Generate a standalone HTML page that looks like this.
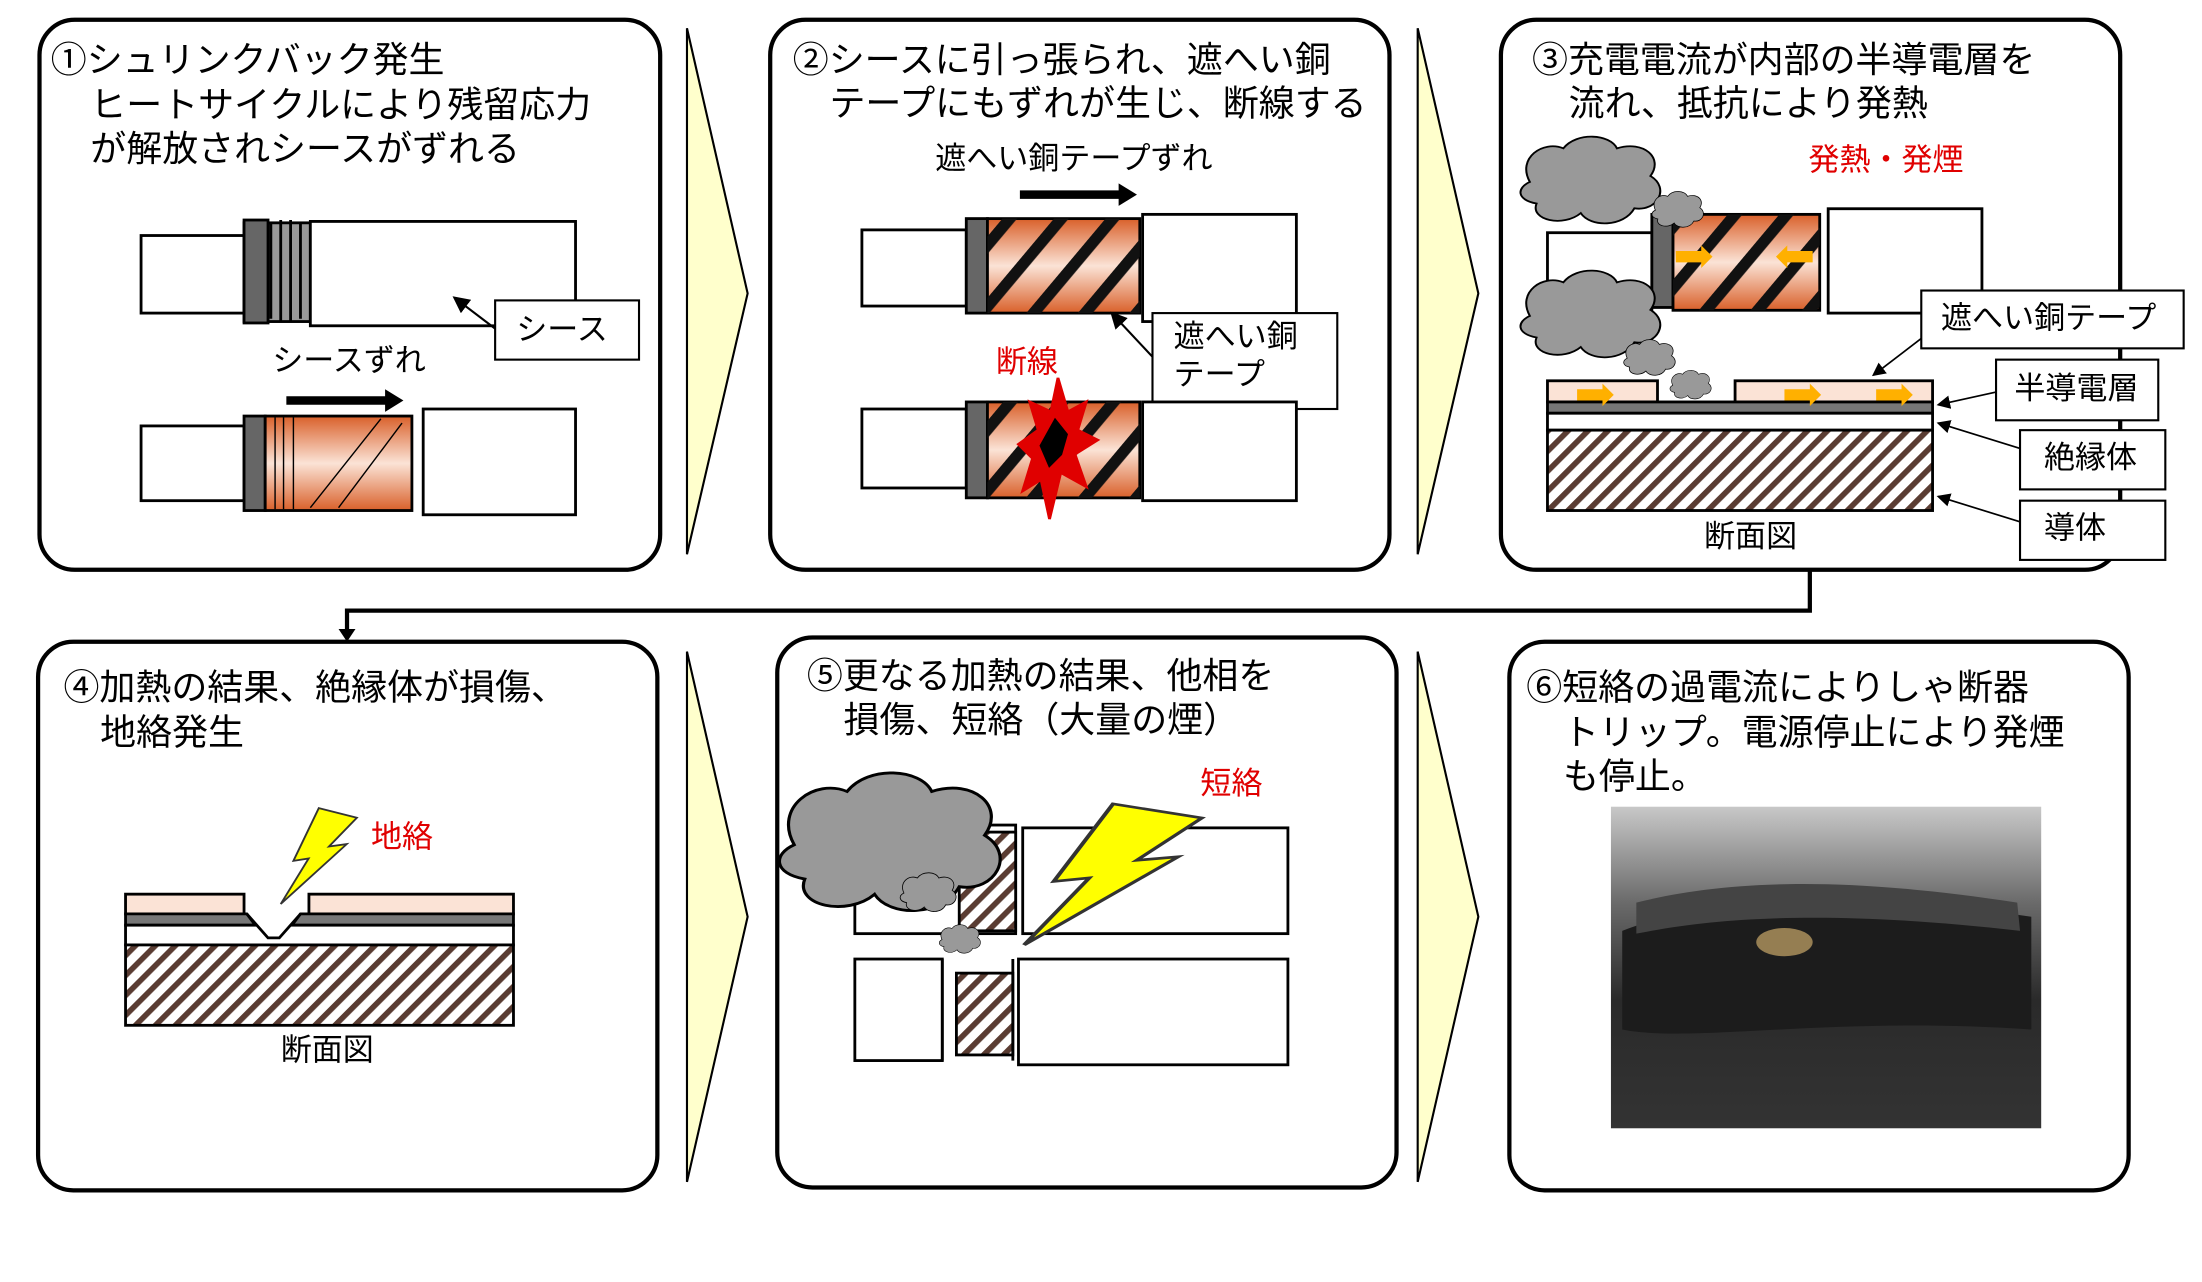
<!DOCTYPE html>
<html><head><meta charset="utf-8"><style>
html,body{margin:0;padding:0;background:#fff;}
svg{display:block}
text{font-family:"Liberation Sans","Noto Sans CJK JP",sans-serif;}
</style></head><body>
<svg width="2202" height="1282" viewBox="0 0 1561 909" preserveAspectRatio="none" xmlns="http://www.w3.org/2000/svg">
<defs>
<linearGradient id="cu" x1="0" y1="0" x2="0" y2="1">
<stop offset="0" stop-color="#d9602a"/><stop offset="0.5" stop-color="#fbe3d6"/><stop offset="1" stop-color="#d9602a"/>
</linearGradient>
<pattern id="hatch" width="10" height="10" patternUnits="userSpaceOnUse" patternTransform="rotate(45)">
<rect width="10" height="10" fill="#fff"/><rect width="4" height="10" fill="#5a3c32"/>
</pattern>
<pattern id="stripe" width="28" height="28" patternUnits="userSpaceOnUse" patternTransform="rotate(40)">
<rect width="28" height="28" fill="none"/><rect width="8" height="28" fill="#111"/>
</pattern>
<marker id="ah" markerWidth="8" markerHeight="8" refX="7" refY="4" orient="auto"><path d="M0,0 L8,4 L0,8z" fill="#000"/></marker>
<linearGradient id="ph" x1="0" y1="0" x2="0" y2="1">
<stop offset="0" stop-color="#c8c8c8"/><stop offset="0.3" stop-color="#6a6a6a"/><stop offset="0.6" stop-color="#2a2a2a"/><stop offset="1" stop-color="#333"/>
</linearGradient>
<g id="cloud"><path d="M10,40 C0,20 20,5 35,12 C45,-2 70,0 75,12 C95,5 110,20 100,35 C115,45 105,65 88,62 C80,78 55,78 48,66 C35,78 10,72 15,58 C0,55 0,45 10,40z" fill="#999" stroke="#000" stroke-width="1.5"/></g>
<g id="bolt"><path d="M40,0 L70,8 L48,32 L62,30 L10,80 L32,42 L20,44z" fill="#ffff00" stroke="#333" stroke-width="1.5"/></g>
</defs>
<g fill="none" stroke="#000" stroke-width="3">
<rect x="28" y="14" width="440" height="390" rx="25"/>
<rect x="546" y="14" width="439" height="390" rx="25"/>
<rect x="1064" y="14" width="439" height="390" rx="25"/>
<rect x="27" y="455" width="439" height="389" rx="25"/>
<rect x="551" y="452" width="439" height="390" rx="25"/>
<rect x="1070" y="455" width="439" height="389" rx="25"/>
</g>
<g fill="#ffffcc" stroke="#000" stroke-width="1.5">
<path d="M487,20 L530,208 L487,393z"/><path d="M1005,20 L1048,208 L1005,393z"/>
<path d="M487,462 L530,650 L487,838z"/><path d="M1005,462 L1048,650 L1005,838z"/>
</g>
<path d="M1283,404 V433 H246 V448" fill="none" stroke="#000" stroke-width="3"/>
<path d="M240,446 L246,455 L252,446z" fill="#000"/>
<g font-size="25.5" fill="#000">
<text x="36" y="51">①シュリンクバック発生</text>
<text x="64" y="83">ヒートサイクルにより残留応力</text>
<text x="64" y="114">が解放されシースがずれる</text>
<text x="562" y="51">②シースに引っ張られ、遮へい銅</text>
<text x="588" y="82">テープにもずれが生じ、断線する</text>
<text x="1086" y="51">③充電電流が内部の半導電層を</text>
<text x="1112" y="82">流れ、抵抗により発熱</text>
<text x="45" y="496">④加熱の結果、絶縁体が損傷、</text>
<text x="71" y="528">地絡発生</text>
<text x="572" y="488">⑤更なる加熱の結果、他相を</text>
<text x="598" y="519">損傷、短絡（大量の煙）</text>
<text x="1082" y="496">⑥短絡の過電流によりしゃ断器</text>
<text x="1108" y="528">トリップ。電源停止により発煙</text>
<text x="1108" y="559">も停止。</text>
</g>
<g stroke="#000" stroke-width="2">
<!-- panel1 -->
<rect x="100" y="167" width="73" height="55" fill="#fff"/>
<rect x="173" y="158" width="47" height="70" fill="#999"/>
<rect x="173" y="156" width="17" height="73" fill="#666"/>
<path d="M192,158 v68 M199,156 v72 M206,156 v72 M213,158 v68" />
<rect x="220" y="157" width="188" height="74" fill="#fff"/>
<rect x="351" y="213" width="102" height="42" fill="#fff" stroke-width="1.5"/>
<line x1="351" y1="233" x2="322" y2="211" stroke-width="1.5" marker-end="url(#ah)"/>
<rect x="100" y="302" width="73" height="53" fill="#fff"/>
<rect x="173" y="295" width="15" height="67" fill="#666"/>
<rect x="188" y="295" width="104" height="67" fill="url(#cu)"/>
<path d="M195,296 v65 M201,296 v65 M208,296 v65 M220,360 L270,297 M240,360 L285,300" stroke-width="1"/>
<rect x="300" y="290" width="108" height="75" fill="#fff"/>
<!-- panel2 -->
<rect x="611" y="163" width="74" height="54" fill="#fff"/>
<rect x="685" y="155" width="15" height="67" fill="#666"/>
<rect x="700" y="155" width="108" height="67" fill="url(#cu)"/>
<rect x="700" y="155" width="108" height="67" fill="url(#stripe)" stroke="none"/>
<rect x="810" y="152" width="109" height="76" fill="#fff"/>
<rect x="817" y="222" width="131" height="68" fill="#fff" stroke-width="1.5"/>
<line x1="817" y1="253" x2="788" y2="222" stroke-width="1.5" marker-end="url(#ah)"/>
<rect x="611" y="290" width="74" height="56" fill="#fff"/>
<rect x="685" y="285" width="15" height="68" fill="#666"/>
<rect x="700" y="285" width="108" height="68" fill="url(#cu)"/>
<rect x="700" y="285" width="108" height="68" fill="url(#stripe)" stroke="none"/>
<rect x="810" y="285" width="109" height="70" fill="#fff"/>
<path d="M750,268 L757,292 L770,285 L764,305 L778,312 L762,322 L770,345 L752,335 L744,368 L738,340 L725,348 L732,325 L722,315 L736,305 L730,285 L745,292z" fill="#e00000" stroke="#e00000"/>
<path d="M748,298 L756,308 L752,322 L744,330 L738,316z" fill="#000"/>
<!-- panel3 -->
<rect x="1097" y="165" width="74" height="57" fill="#fff"/>
<rect x="1171" y="152" width="15" height="66" fill="#666"/>
<rect x="1186" y="152" width="104" height="68" fill="url(#cu)"/>
<rect x="1186" y="152" width="104" height="68" fill="url(#stripe)" stroke="none"/>
<rect x="1296" y="148" width="109" height="74" fill="#fff"/>
<rect x="1097" y="270" width="78" height="15" fill="#fbe3d6"/>
<rect x="1230" y="270" width="140" height="15" fill="#fbe3d6"/>
<rect x="1097" y="285" width="273" height="8" fill="#777"/>
<rect x="1097" y="293" width="273" height="12" fill="#fff"/>
<rect x="1097" y="305" width="273" height="57" fill="url(#hatch)"/>
<g fill="#fff" stroke-width="1.5">
<rect x="1362" y="206" width="186" height="41"/><rect x="1415" y="255" width="115" height="43"/>
<rect x="1432" y="305" width="103" height="42"/><rect x="1432" y="355" width="103" height="42"/>
</g>
<g stroke-width="1.2" marker-end="url(#ah)">
<line x1="1362" y1="240" x2="1328" y2="266"/><line x1="1415" y1="278" x2="1374" y2="287"/>
<line x1="1432" y1="318" x2="1374" y2="300"/><line x1="1432" y1="370" x2="1374" y2="352"/>
</g>
<!-- panel4 -->
<rect x="89" y="634" width="84" height="14" fill="#fbe3d6"/>
<rect x="219" y="634" width="145" height="14" fill="#fbe3d6"/>
<path d="M89,648 H175 L190,668 L198,668 L213,648 H364 V656 H89z" fill="#777"/>
<rect x="89" y="656" width="275" height="14" fill="#fff"/>
<rect x="89" y="670" width="275" height="57" fill="url(#hatch)"/>
<path d="M175,648 L190,665 L198,665 L213,648" fill="#fff"/>
<!-- panel5 -->
<rect x="606" y="585" width="114" height="77" fill="#fff"/>
<rect x="680" y="590" width="40" height="70" fill="url(#hatch)"/>
<rect x="725" y="587" width="188" height="75" fill="#fff"/>
<rect x="606" y="680" width="62" height="72" fill="#fff"/>
<rect x="678" y="690" width="40" height="58" fill="url(#hatch)"/>
<rect x="722" y="680" width="191" height="75" fill="#fff"/>
<path d="M668,680 v72 M718,680 v72" />
</g>
<!-- smoke & bolts -->
<use href="#cloud" transform="translate(1075,95) scale(0.95,0.85)"/>
<use href="#cloud" transform="translate(1075,190) scale(0.95,0.85)"/>
<use href="#cloud" transform="translate(1170,135) scale(0.35,0.35)"/>
<use href="#cloud" transform="translate(1150,240) scale(0.35,0.35)"/>
<use href="#cloud" transform="translate(1183,262) scale(0.28,0.28)"/>
<use href="#cloud" transform="translate(548,545) scale(1.5,1.35)"/>
<use href="#cloud" transform="translate(637,618) scale(0.38,0.38)"/>
<use href="#cloud" transform="translate(665,655) scale(0.28,0.28)"/>
<use href="#bolt" transform="translate(190,573) scale(0.9,0.85)"/>
<use href="#bolt" transform="translate(705,570) scale(2.1,1.25)"/>
<g fill="#ffb000">
<path d="M1188,178 h18 v-4 l8,8 -8,8 v-4 h-18z"/><path d="M1285,178 h-18 v-4 l-8,8 8,8 v-4 h18z"/>
<path d="M1118,276 h18 v-4 l8,8 -8,8 v-4 h-18z"/><path d="M1265,276 h18 v-4 l8,8 -8,8 v-4 h-18z"/>
<path d="M1330,276 h18 v-4 l8,8 -8,8 v-4 h-18z"/>
</g>
<g font-size="22" fill="#000">
<text x="366" y="241">シース</text>
<text x="193" y="263">シースずれ</text>
<text x="663" y="120">遮へい銅テープずれ</text>
<text x="832" y="246">遮へい銅</text><text x="832" y="273">テープ</text>
<text x="1376" y="233">遮へい銅テープ</text>
<text x="1428" y="283">半導電層</text>
<text x="1449" y="332">絶縁体</text>
<text x="1449" y="382">導体</text>
<text x="1208" y="388">断面図</text>
<text x="199" y="752">断面図</text>
</g>
<g font-size="22" fill="#e00000">
<text x="706" y="264">断線</text>
<text x="1282" y="121">発熱・発煙</text>
<text x="263" y="601">地絡</text>
<text x="851" y="563">短絡</text>
</g>
<path d="M723,138 H795" stroke="#000" stroke-width="6"/><path d="M793,130 L806,138 L793,146z"/>
<path d="M203,284 H275" stroke="#000" stroke-width="6"/><path d="M273,276 L286,284 L273,292z"/>
<rect x="1142" y="572" width="305" height="228" fill="url(#ph)"/>
<path d="M1150,660 C1200,640 1300,630 1440,650 L1440,730 C1300,720 1200,740 1150,730z" fill="#1c1c1c"/>
<path d="M1160,640 C1220,625 1300,620 1430,640 L1432,660 C1300,645 1220,650 1160,662z" fill="#444"/>
<ellipse cx="1265" cy="668" rx="20" ry="10" fill="#c9a86a" opacity="0.7"/>
</svg>
</body></html>
